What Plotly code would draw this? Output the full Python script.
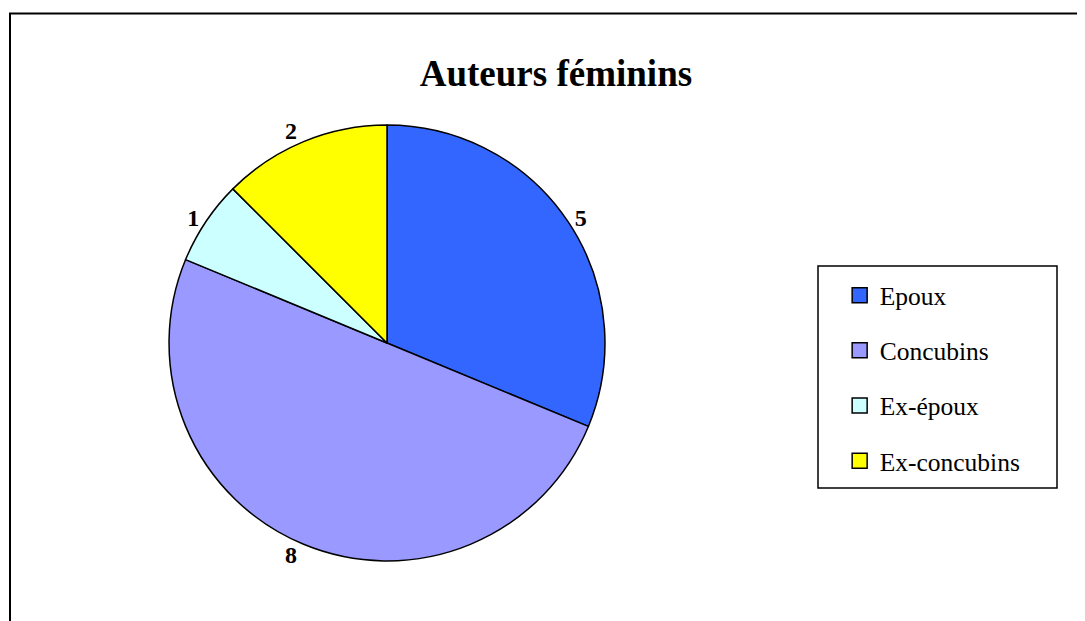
import plotly.graph_objects as go

# Données du graphique
categories = ["Epoux", "Concubins", "Ex-époux", "Ex-concubins"]
valeurs = [5, 8, 1, 2]
couleurs = ["#3366FF", "#9999FF", "#CCFFFF", "#FFFF00"]

SERIF = "Liberation Serif, Times New Roman, serif"

fig = go.Figure()

# Camembert, sens horaire à partir de midi
fig.add_trace(
    go.Pie(
        labels=categories,
        values=valeurs,
        sort=False,
        direction="clockwise",
        rotation=0,
        marker=dict(colors=couleurs, line=dict(color="black", width=1.5)),
        textinfo="value",
        textposition="outside",
        outsidetextfont=dict(family=SERIF, size=24, color="black", weight="bold"),
        domain=dict(x=[0.1484, 0.5502], y=[0.1095, 0.8116]),
        showlegend=False,
        hoverinfo="label+value",
    )
)

# Légende : une entrée par catégorie
for nom, couleur in zip(categories, couleurs):
    fig.add_trace(
        go.Scatter(
            x=[None],
            y=[None],
            mode="markers",
            name=nom,
            legendgroup=nom,
            marker=dict(symbol="square", size=15, color=couleur,
                        line=dict(color="black", width=1.5)),
        )
    )

fig.update_layout(
    width=1085,
    height=621,
    margin=dict(l=0, r=0, t=0, b=0),
    paper_bgcolor="white",
    plot_bgcolor="white",
    xaxis=dict(visible=False),
    yaxis=dict(visible=False),
    title=dict(
        text="Auteurs féminins",
        x=0.505,
        xanchor="center",
        y=0.8953,
        yanchor="middle",
        font=dict(family=SERIF, size=37, color="black", weight="bold"),
    ),
    legend=dict(
        x=0.7665,
        y=0.404,
        xanchor="left",
        yanchor="middle",
        traceorder="grouped",
        tracegroupgap=19,
        font=dict(family=SERIF, size=25.5, color="black"),
        bgcolor="rgba(0,0,0,0)",
    ),
    shapes=[
        # cadre du graphique
        dict(type="rect", xref="paper", yref="paper",
             x0=2 / 1085, x1=1.02, y0=-0.02, y1=1 - 5.5 / 621,
             line=dict(color="black", width=2)),
        # cadre de la légende
        dict(type="rect", xref="paper", yref="paper",
             x0=810 / 1085, x1=1049 / 1085, y0=1 - 480 / 621, y1=1 - 258 / 621,
             line=dict(color="black", width=1.5)),
    ],
)

fig.write_html("out.html")
